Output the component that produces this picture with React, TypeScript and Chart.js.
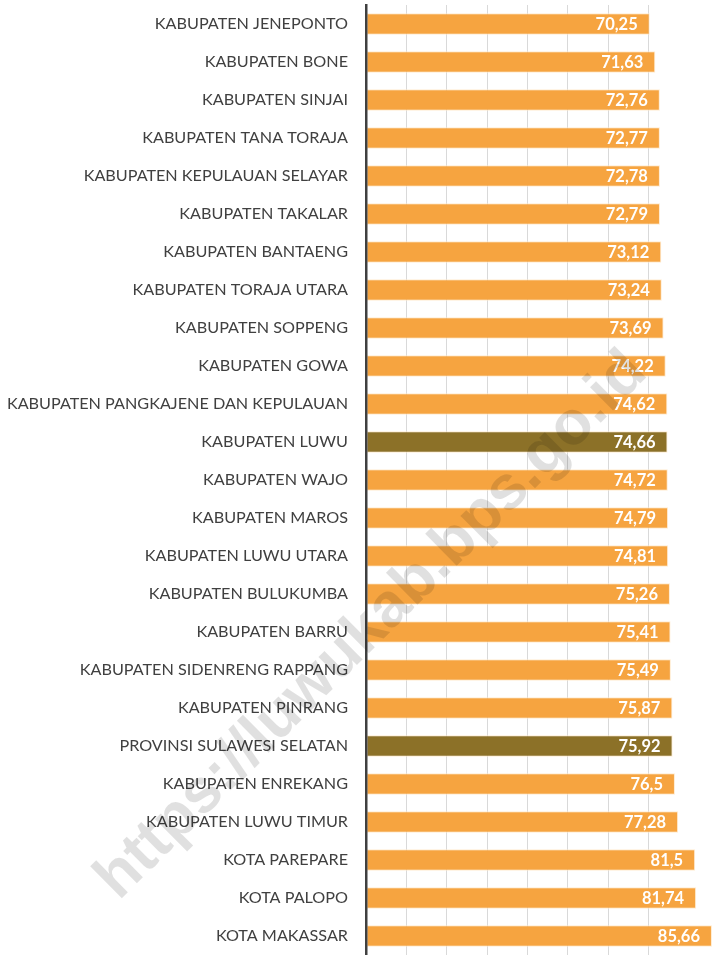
import { useEffect, useRef } from "react";
import { Chart, registerables } from "chart.js";

Chart.register(...registerables);

const categories: string[] = [
  "KABUPATEN JENEPONTO",
  "KABUPATEN BONE",
  "KABUPATEN SINJAI",
  "KABUPATEN TANA TORAJA",
  "KABUPATEN KEPULAUAN SELAYAR",
  "KABUPATEN TAKALAR",
  "KABUPATEN BANTAENG",
  "KABUPATEN TORAJA UTARA",
  "KABUPATEN SOPPENG",
  "KABUPATEN GOWA",
  "KABUPATEN PANGKAJENE DAN KEPULAUAN",
  "KABUPATEN LUWU",
  "KABUPATEN WAJO",
  "KABUPATEN MAROS",
  "KABUPATEN LUWU UTARA",
  "KABUPATEN BULUKUMBA",
  "KABUPATEN BARRU",
  "KABUPATEN SIDENRENG RAPPANG",
  "KABUPATEN PINRANG",
  "PROVINSI SULAWESI SELATAN",
  "KABUPATEN ENREKANG",
  "KABUPATEN LUWU TIMUR",
  "KOTA PAREPARE",
  "KOTA PALOPO",
  "KOTA MAKASSAR",
];

const values: number[] = [
  70.25, 71.63, 72.76, 72.77, 72.78, 72.79, 73.12, 73.24, 73.69, 74.22,
  74.62, 74.66, 74.72, 74.79, 74.81, 75.26, 75.41, 75.49, 75.87, 75.92,
  76.5, 77.28, 81.5, 81.74, 85.66,
];

const highlighted: string[] = ["KABUPATEN LUWU", "PROVINSI SULAWESI SELATAN"];

const axisMin = 0;
const axisMax = 87.9;
const axisStep = 10;

const watermarkText = "https://luwukab.bps.go.id";

const ORANGE = "#F6A440";
const OLIVE = "#8C7128";
const LABEL_FONT = "Lato";

const formatValue = (v: number) => String(v).replace(".", ",");

const valueLabelPlugin = {
  id: "valueLabels",
  afterDatasetsDraw(chart: any) {
    const ctx = chart.ctx;
    const meta = chart.getDatasetMeta(0);
    ctx.save();
    ctx.font = `bold 16.5px ${LABEL_FONT}`;
    ctx.fillStyle = "#FFFFFF";
    ctx.textAlign = "right";
    ctx.textBaseline = "middle";
    meta.data.forEach((bar: any, i: number) => {
      ctx.fillText(formatValue(values[i]), bar.x - 12, bar.y + 1);
    });
    ctx.restore();
  },
};

const watermarkPlugin = {
  id: "watermark",
  afterDraw(chart: any) {
    const ctx = chart.ctx;
    ctx.save();
    ctx.translate(384, 638);
    ctx.rotate((-44.8 * Math.PI) / 180);
    ctx.font = "bold 62px 'Liberation Sans', Arial, sans-serif";
    ctx.fillStyle = "rgba(0,0,0,0.12)";
    ctx.textAlign = "center";
    ctx.textBaseline = "alphabetic";
    ctx.fillText(watermarkText, 0, 0);
    ctx.restore();
  },
};

export default function App() {
  const canvasRef = useRef<HTMLCanvasElement | null>(null);

  useEffect(() => {
    if (!canvasRef.current) return;
    const chart = new Chart(canvasRef.current, {
      type: "bar",
      data: {
        labels: categories,
        datasets: [
          {
            data: values,
            backgroundColor: categories.map((c) =>
              highlighted.includes(c) ? OLIVE : ORANGE
            ),
            borderColor: "rgba(255,232,200,0.85)",
            borderWidth: 1,
            borderSkipped: false,
            barPercentage: 0.565,
            categoryPercentage: 1,
          },
        ],
      },
      options: {
        indexAxis: "y",
        animation: false,
        responsive: false,
        devicePixelRatio: 1,
        layout: { padding: { top: 5, bottom: -3, left: 0, right: 0 } },
        plugins: {
          legend: { display: false },
          tooltip: { enabled: false },
        },
        scales: {
          x: {
            type: "linear",
            min: axisMin,
            max: axisMax,
            ticks: { stepSize: axisStep, display: false },
            grid: {
              drawTicks: false,
              lineWidth: 1,
              color: (ctx: any) =>
                ctx.tick && (ctx.tick.value === 0 || ctx.tick.value % axisStep !== 0)
                  ? "rgba(0,0,0,0)"
                  : "#D9D9D9",
            },
            border: { display: false },
            afterFit: (scale: any) => {
              scale.height = 0;
              scale.paddingLeft = 0;
              scale.paddingRight = 0;
            },
          },
          y: {
            type: "category",
            grid: { display: false, drawTicks: false },
            border: { display: true, color: "#404040", width: 2.5, z: 1 },
            ticks: {
              padding: 18,
              color: "#404040",
              font: { family: LABEL_FONT, size: 16.2 },
              autoSkip: false,
            },
            afterFit: (scale: any) => {
              scale.width = 366;
              scale.paddingTop = 0;
              scale.paddingBottom = 0;
            },
          },
        },
      },
      plugins: [valueLabelPlugin, watermarkPlugin],
    });
    return () => chart.destroy();
  }, []);

  return (
    <div style={{ position: "absolute", left: 0, top: 0, width: 721, height: 955, background: "#fff" }}>
      <canvas ref={canvasRef} width={721} height={955} style={{ display: "block" }} />
    </div>
  );
}
